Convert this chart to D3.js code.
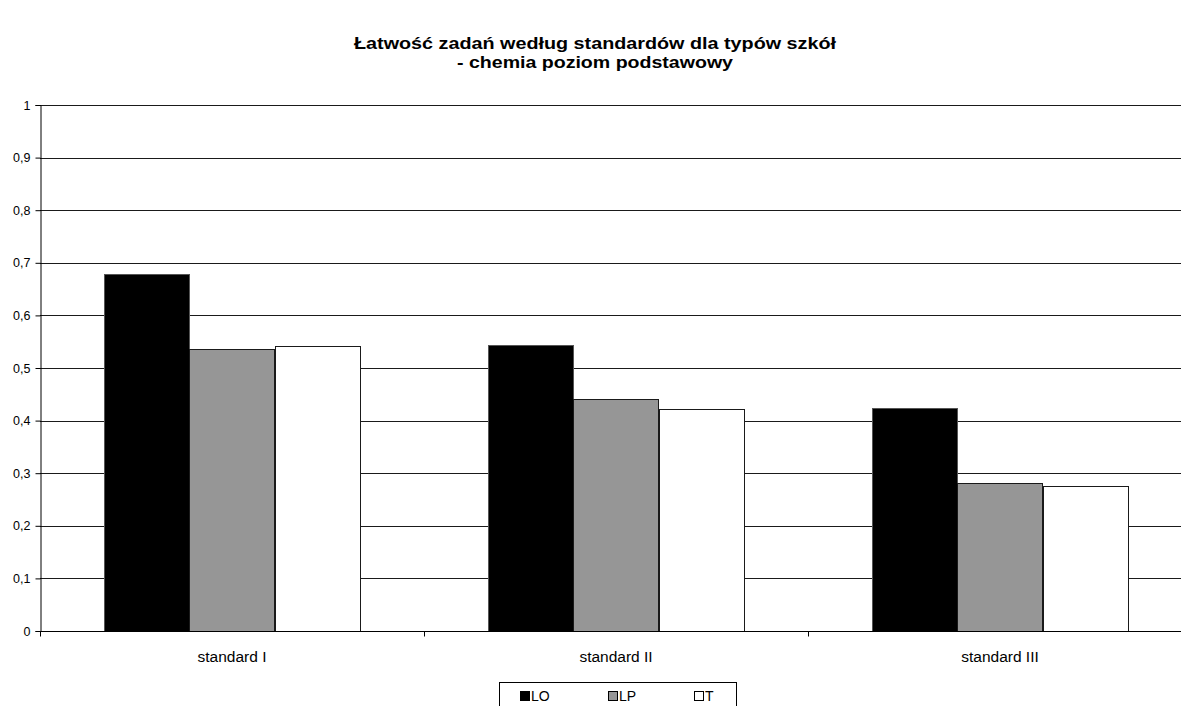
<!DOCTYPE html>
<html>
<head>
<meta charset="utf-8">
<script src="https://cdn.jsdelivr.net/npm/d3@7"></script>
<style>
  html, body { margin: 0; padding: 0; background: #fff; }
  svg { display: block; font-family: "Liberation Sans", Arial, sans-serif; }
</style>
</head>
<body>
<svg id="chart" width="1181" height="706"></svg>
<script>
// Categories, series and tick labels
const categories = ["standard I", "standard II", "standard III"];
const seriesNames = ["LO", "LP", "T"];
const seriesColors = ["#000000", "#969696", "#ffffff"];
const valuesLO = [0.679, 0.543, 0.424];
const valuesLP = [0.536, 0.442, 0.282];
const valuesT = [0.541, 0.423, 0.276];
const yTicks = [0, 0.1, 0.2, 0.3, 0.4, 0.5, 0.6, 0.7, 0.8, 0.9, 1];
const titleLines = ["Łatwość zadań według standardów dla typów szkół", "- chemia poziom podstawowy"];

const seriesValues = [valuesLO, valuesLP, valuesT];

const svg = d3.select("#chart");
const W = 1181, H = 706;
const plot = { left: 40, top: 105, width: 1152, height: 526 };

const x0 = d3.scaleBand()
  .domain(categories)
  .range([plot.left, plot.left + plot.width])
  .paddingInner(0).paddingOuter(0);

const x1 = d3.scaleBand()
  .domain(seriesNames)
  .range([0, x0.bandwidth()])
  .paddingInner(0)
  .paddingOuter(0.75);

const y = d3.scaleLinear().domain([0, 1]).range([plot.top + plot.height, plot.top]);

// Title (two centred bold lines, slightly wide lettering)
const titleWidths = [482, 276];
svg.append("g").selectAll("text").data(titleLines).join("text")
  .attr("x", 595)
  .attr("y", (d, i) => 49 + i * 19)
  .attr("text-anchor", "middle")
  .attr("font-size", 16.5)
  .attr("font-weight", "bold")
  .attr("fill", "#000")
  .attr("textLength", (d, i) => titleWidths[i])
  .attr("lengthAdjust", "spacingAndGlyphs")
  .text(d => d);

// Horizontal gridlines
svg.append("g").selectAll("line").data(yTicks.filter(t => t > 0)).join("line")
  .attr("x1", plot.left).attr("x2", W)
  .attr("y1", d => Math.round(y(d)) + 0.5).attr("y2", d => Math.round(y(d)) + 0.5)
  .attr("stroke", "#1a1a1a").attr("stroke-width", 1);

// Bars
const groups = svg.append("g").selectAll("g").data(categories).join("g")
  .attr("transform", d => `translate(${x0(d)},0)`);

groups.selectAll("rect")
  .data((c, ci) => seriesNames.map((s, si) => ({ s, si, v: seriesValues[si][ci] })))
  .join("rect")
  .attr("x", d => Math.round(x1(d.s)) + 0.5)
  .attr("y", d => Math.round(y(d.v)) + 0.5)
  .attr("width", d => Math.round(x1.bandwidth()))
  .attr("height", d => Math.round(y(0)) - Math.round(y(d.v)))
  .attr("fill", d => seriesColors[d.si])
  .attr("stroke", d => d.si === 0 ? "#555" : "#1a1a1a")
  .attr("stroke-width", 1);

// Y axis
const yAxis = d3.axisLeft(y)
  .tickValues(yTicks)
  .tickSize(5)
  .tickPadding(5)
  .tickFormat(d => d === 0 ? "0" : d === 1 ? "1" : d3.format(".1f")(d).replace(".", ","));
const gy = svg.append("g")
  .attr("transform", `translate(${plot.left + 0.5},0)`)
  .call(yAxis);
gy.select(".domain").attr("stroke", "#000");
gy.selectAll(".tick line").attr("stroke", "#000");
gy.selectAll(".tick text").attr("font-size", 12.5).attr("fill", "#000")
  .attr("font-family", "Liberation Sans, Arial, sans-serif");

// X axis (baseline with category separators)
const baseY = Math.round(y(0)) + 0.5;
svg.append("line")
  .attr("x1", plot.left).attr("x2", W)
  .attr("y1", baseY).attr("y2", baseY)
  .attr("stroke", "#000");
const sepXs = categories.map(c => x0(c)).concat([x0(categories[categories.length - 1]) + x0.bandwidth()]);
svg.append("g").selectAll("line").data(sepXs).join("line")
  .attr("x1", d => Math.round(d) + 0.5).attr("x2", d => Math.round(d) + 0.5)
  .attr("y1", baseY).attr("y2", baseY + 5)
  .attr("stroke", "#000");

svg.append("g").selectAll("text").data(categories).join("text")
  .attr("x", d => x0(d) + x0.bandwidth() / 2)
  .attr("y", 662)
  .attr("text-anchor", "middle")
  .attr("font-size", 15.5)
  .attr("fill", "#000")
  .text(d => d);

// Legend
const legend = svg.append("g");
legend.append("rect")
  .attr("x", 499.5).attr("y", 682.5)
  .attr("width", 237).attr("height", 40)
  .attr("fill", "#fff").attr("stroke", "#000");
const legendXs = [520, 608, 694];
const items = legend.selectAll("g.item").data(seriesNames).join("g")
  .attr("class", "item")
  .attr("transform", (d, i) => `translate(${legendXs[i]},0)`);
items.append("rect")
  .attr("x", 0.5).attr("y", 691.5)
  .attr("width", 9).attr("height", 9)
  .attr("fill", (d, i) => seriesColors[i])
  .attr("stroke", "#000");
items.append("text")
  .attr("x", 11).attr("y", 701)
  .attr("font-size", 14)
  .attr("fill", "#000")
  .text(d => d);
</script>
</body>
</html>
